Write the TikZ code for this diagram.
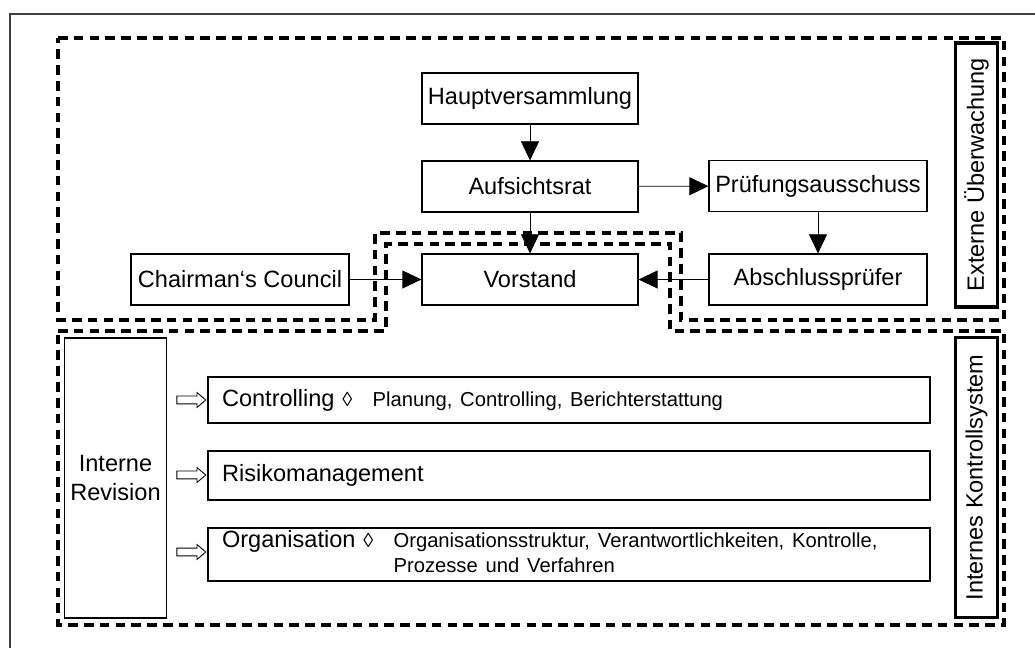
\documentclass[tikz,border=0pt]{standalone}
\usepackage{fontspec}
\setmainfont{Liberation Sans}
\usetikzlibrary{positioning,arrows.meta,shapes.arrows}

\begin{document}
\begin{tikzpicture}[
    x=0.02cm, y=-0.02cm, font=\fontsize{13.4}{16}\selectfont,
    >={Triangle[length=3.8mm, width=3.6mm]},
    box/.style={draw, line width=0.7pt, minimum width=4.32cm, minimum height=1.02cm, inner sep=0pt},
    zone/.style={line width=2pt, dash pattern=on 5.5pt off 3.5pt},
    side/.style={draw, rotate=90, minimum height=0.84cm, inner sep=0pt},
    icsbox/.style={draw, line width=0.7pt, text width=13.88cm, inner xsep=0.28cm, inner ysep=0pt, align=left},
    note/.style={font=\fontsize{11.5}{14}\selectfont},
    hollow/.style={draw, line width=0.5pt, single arrow, inner sep=0pt, text width=0pt,
      text height=0.07cm, text depth=0.07cm, minimum height=0.58cm,
      single arrow head extend=0.07cm, single arrow tip angle=80}]
  \useasboundingbox (0,0) rectangle (1035,648);
  \draw[line width=0.7pt, black!75] (10,648) -- (10,14) -- (1035,14);
  % monitoring zones
  \draw[zone] (58,38) -- (1004,38) -- (1004,320) -- (681,320) -- (681,233) -- (375,233)
    -- (375,320) -- (58,320) -- cycle;
  \draw[zone] (58,331) -- (386,331) -- (386,244) -- (670,244) -- (670,331) -- (1004,331)
    -- (1004,625) -- (58,625) -- cycle;
  % governance bodies
  \node[box] (hv) at (530,98.5) {Hauptversammlung};
  \node[box] (ar) at (530,186.5) {Aufsichtsrat};
  \node[box] (vs) at (530,279.5) {Vorstand};
  \node[box, minimum width=4.36cm] (pa) at (818,186) {Prüfungsausschuss};
  \node[box, minimum width=4.36cm] (ap) at (818,279.5) {Abschlussprüfer};
  \node[box, minimum width=4.36cm] (cc) at (240,279.5) {Chairman‘s Council};
  \draw[->] (hv) -- (ar);
  \draw[->] (ar) -- (vs);
  \draw[->] (ar) -- (pa);
  \draw[->] (pa) -- (ap);
  \draw[->] (cc) -- (vs);
  \draw[->] (ap) -- (vs);
  \node[side, line width=1.8pt, minimum width=5.28cm] (ext) at (976.5,175) {Externe Überwachung};
  \node[side, line width=1.2pt, minimum width=5.6cm] (iks) at (976.5,477.5) {Internes Kontrollsystem};
  % internal control
  \node[draw, line width=0.7pt, minimum width=2.02cm, minimum height=5.6cm, align=center] (ir)
    at (115.5,478) {Interne\\Revision};
  \node[icsbox, minimum height=0.92cm] (ctl) at (569,400)
    {Controlling {\fontsize{11.5}{14}\selectfont ◊\quad Planung, Controlling, Berichterstattung}};
  \node[icsbox, minimum height=0.98cm] (rm) at (569,475.5) {Risikomanagement};
  \node[icsbox, minimum height=1.06cm] (org) at (569,554.5)
    {\begin{tabular}{@{}l@{}l@{}}Organisation {\fontsize{11.5}{14}\selectfont ◊\quad} &
      {\fontsize{11.5}{14}\selectfont Organisationsstruktur, Verantwortlichkeiten, Kontrolle,}\\[-2pt]
      & {\fontsize{11.5}{14}\selectfont Prozesse und Verfahren}\end{tabular}};
  \node[hollow] (h1) at (189,400) {};
  \node[hollow] (h2) at (189,475) {};
  \node[hollow] (h3) at (189,552) {};
\end{tikzpicture}
\end{document}
